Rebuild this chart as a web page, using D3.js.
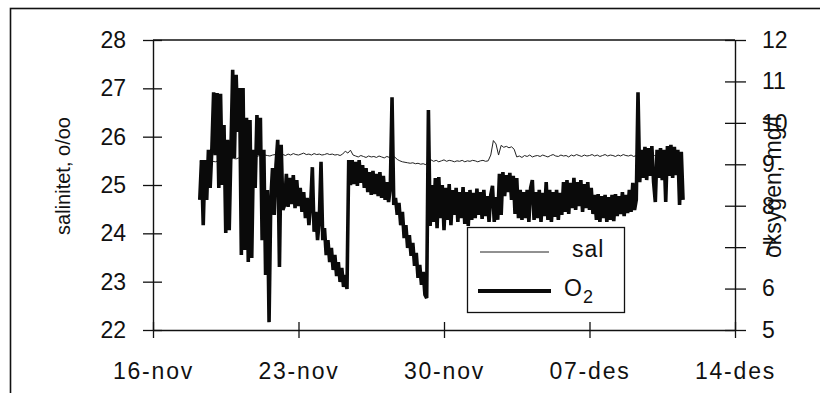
<!DOCTYPE html>
<html><head><meta charset="utf-8">
<script src="https://cdn.jsdelivr.net/npm/d3@7"></script>
<style>body{margin:0;background:#fff} svg{display:block}</style>
</head><body><svg id="c" width="820" height="393"></svg>
<script>
// ---- data ----
const xDomain = [new Date(1995,10,16), new Date(1995,11,14)];
const dateTicks = [new Date(1995,10,16), new Date(1995,10,23), new Date(1995,10,30), new Date(1995,11,7), new Date(1995,11,14)];
const dateTickLabels = ["16-nov","23-nov","30-nov","07-des","14-des"];
const salTicks = [22,23,24,25,26,27,28];
const o2Ticks = [5,6,7,8,9,10,11,12];
const seriesStart = new Date(1995,10,18,6);
const o2StepHours = 2;
const salStepHours = 3;
const o2Values = [
 8.14, 9.10, 7.53, 9.10, 8.14, 9.35, 8.43, 9.39, 10.74, 9.22,
 10.72, 8.43, 10.70, 8.50, 9.95, 7.34, 9.59, 7.41, 9.35, 11.28,
 9.15, 11.16, 9.78, 10.84, 6.81, 10.84, 6.93, 10.12, 6.64, 10.07,
 6.74, 9.35, 8.43, 10.19, 9.22, 10.12, 7.17, 9.35, 6.33, 8.38,
 5.19, 8.14, 8.91, 7.78, 8.98, 9.59, 6.52, 9.47, 7.90,
 8.02, 8.77, 7.97, 8.67, 8.04, 8.74, 7.94, 8.62, 7.99, 8.43,
 7.85, 8.33, 7.70, 8.19, 7.53, 8.02, 8.93, 7.37, 7.85, 7.17,
 7.66, 9.06, 7.17, 7.46, 6.81, 7.17, 6.64, 6.98, 6.45, 6.81,
 6.30, 6.64, 6.16, 6.50, 6.04, 6.33, 5.99, 9.10,
 8.50, 9.10, 8.52, 9.06, 8.48, 9.10, 8.55, 8.98, 8.43, 8.91,
 8.33, 8.81, 8.26, 8.84, 8.28, 8.77, 8.23, 8.81, 8.19, 8.72,
 8.14, 8.57, 8.09, 8.43, 10.62, 8.02,
 8.19, 7.78, 8.07, 7.53, 7.85, 7.22, 7.53, 6.98, 7.29, 6.79,
 7.10, 6.55, 6.86, 6.26, 6.57, 6.09, 6.40, 5.85, 5.77, 10.31, 7.51,
 8.50, 7.61, 8.67, 7.46, 8.69, 7.70, 8.50, 7.41, 8.43, 7.66,
 8.52, 7.53, 8.38, 7.78, 8.43, 7.61, 8.33, 7.70, 8.45, 7.56,
 8.33, 7.51, 8.38, 7.66, 8.31, 7.70, 8.41, 7.78, 8.33, 7.68,
 8.38, 7.75, 8.23, 7.61, 8.26, 8.48, 7.61, 8.21, 7.66, 8.77,
 7.78, 8.81, 8.23, 8.74, 8.33, 8.79, 8.14, 8.72, 7.80, 8.67,
 7.70, 8.38, 7.66, 8.33, 7.70, 8.38, 7.61, 8.43, 8.62, 7.66,
 8.33, 7.70, 8.38, 7.61, 8.31, 7.75, 8.57, 7.66, 8.38, 7.61,
 8.33, 7.73, 8.38, 7.66, 8.31, 7.78, 8.57, 7.85, 8.62, 7.80,
 8.55, 7.94, 8.67, 7.90, 8.57, 7.99, 8.62, 7.85, 8.52, 7.94,
 8.57, 7.90, 8.43, 7.80, 8.26, 7.66, 8.28, 7.61, 8.23, 7.70,
 8.26, 7.61, 8.21, 7.66, 8.26, 7.63, 8.28, 7.75, 8.23, 7.80,
 8.33, 7.75, 8.26, 7.82, 8.38, 7.85, 8.55, 7.90, 8.14, 10.74, 8.57,
 9.35, 8.67, 9.42, 8.62, 9.39, 8.72, 9.44, 8.57, 8.09, 9.35,
 8.67, 9.39, 8.62, 9.35, 8.09, 9.44, 8.72, 9.47, 8.67, 9.42,
 8.74, 9.35, 8.02, 9.30, 8.14
];
const salValues = [
 25.48, 25.49, 25.48, 25.47, 25.48, 25.49, 25.48,
 25.50, 25.51, 25.52, 25.53, 25.52, 25.54, 25.55, 25.54, 25.56, 25.57, 25.56, 25.58, 25.59,
 25.58, 25.60, 25.59, 25.61, 25.60, 25.62, 25.61, 25.60, 25.62, 25.63, 25.61, 25.62,
 25.63, 25.61, 25.64, 25.62, 25.65, 25.63, 25.62, 25.64, 25.66, 25.63, 25.64, 25.62,
 25.65, 25.63, 25.64, 25.62, 25.63, 25.65, 25.63, 25.64, 25.62, 25.63, 25.61, 25.64,
 25.70, 25.66, 25.72, 25.62,
 25.60, 25.58, 25.61, 25.59, 25.57, 25.60, 25.58, 25.59, 25.57, 25.60, 25.58, 25.56, 25.59, 25.57,
 25.56, 25.58, 25.53, 25.50, 25.48, 25.47, 25.46, 25.45, 25.46, 25.44, 25.45, 25.43, 25.44, 25.42,
 25.50, 25.52, 25.49, 25.51, 25.48, 25.50, 25.52, 25.49, 25.51, 25.50, 25.48, 25.50,
 25.49, 25.51, 25.48, 25.50, 25.49, 25.51, 25.50, 25.48, 25.50, 25.51, 25.49,
 25.50, 25.62, 25.92, 25.85, 25.62, 25.82, 25.78, 25.80, 25.77, 25.79, 25.74,
 25.58, 25.60, 25.57, 25.61, 25.59, 25.62, 25.58, 25.60, 25.61, 25.59,
 25.62, 25.60, 25.58, 25.61, 25.63, 25.60, 25.59, 25.62, 25.60, 25.61,
 25.58, 25.62, 25.60, 25.63, 25.61, 25.59, 25.62, 25.60, 25.61, 25.63,
 25.60, 25.62, 25.59, 25.61, 25.63, 25.60, 25.62, 25.61, 25.59, 25.62,
 25.60, 25.63, 25.61, 25.60, 25.62, 25.59, 25.61,
 25.60, 25.62, 25.61, 25.63, 25.60, 25.62, 25.61, 25.60, 25.62, 25.63,
 25.61, 25.60, 25.62, 25.61, 25.60, 25.62, 25.61
];
const legendLabels = ["sal", "O", "2"];
const axisTitles = ["salinitet, o/oo", "oksygen, mg/l"];

// ---- drawing ----
(function () {
const FONT = "'Liberation Sans', Arial, Helvetica, sans-serif";
const svg = d3.select("#c");
const pLeft = 153, pRight = 735, pTop = 40, pBottom = 330;

const x = d3.scaleTime().domain(xDomain).range([pLeft, pRight]);
const yS = d3.scaleLinear().domain([22, 28]).range([pBottom, pTop]);
const yO = d3.scaleLinear().domain([5, 12]).range([pBottom, pTop]);
const tAt = (i, h) => new Date(seriesStart.getTime() + i * h * 3600e3);

// outer frame
svg.append("rect").attr("x", 10.5).attr("y", 8.5).attr("width", 840).attr("height", 420)
  .attr("fill", "none").attr("stroke", "#111").attr("stroke-width", 1.6);

// plot top border
svg.append("line").attr("x1", pLeft).attr("x2", pRight).attr("y1", pTop).attr("y2", pTop)
  .attr("stroke", "#111").attr("stroke-width", 1.4);

// salinity line
svg.append("path").datum(salValues)
  .attr("fill", "none").attr("stroke", "#222").attr("stroke-width", 1)
  .attr("d", d3.line().x((d, i) => x(tAt(i, salStepHours))).y(d => yS(d)));

// oxygen line
svg.append("path").datum(o2Values)
  .attr("fill", "none").attr("stroke", "#0a0a0a").attr("stroke-width", 3.6)
  .attr("stroke-linejoin", "miter").attr("stroke-miterlimit", 2)
  .attr("d", d3.line().x((d, i) => x(tAt(i, o2StepHours))).y(d => yO(d)));

function styleAxis(g) {
  g.attr("font-family", FONT).attr("font-size", 23);
  g.selectAll(".domain").attr("stroke", "#111").attr("stroke-width", 1.4);
  g.selectAll(".tick line").attr("stroke", "#111").attr("stroke-width", 1.3);
  g.selectAll(".tick text").attr("fill", "#111");
}

// left axis
const gL = svg.append("g").attr("transform", `translate(${pLeft},0)`)
  .call(d3.axisLeft(yS).tickValues(salTicks).tickFormat(d3.format("d")).tickSize(10).tickSizeOuter(0).tickPadding(17));
gL.selectAll(".tick line").attr("x1", 9);
styleAxis(gL);

// right axis
const gR = svg.append("g").attr("transform", `translate(${pRight},0)`)
  .call(d3.axisRight(yO).tickValues(o2Ticks).tickFormat(d3.format("d")).tickSize(11).tickSizeOuter(0).tickPadding(16));
gR.selectAll(".tick line").attr("x1", -10);
styleAxis(gR);

// bottom axis
const gB = svg.append("g").attr("transform", `translate(0,${pBottom})`)
  .call(d3.axisBottom(x).tickValues(dateTicks).tickFormat((d, i) => dateTickLabels[i]).tickSize(8).tickSizeOuter(0).tickPadding(25));
gB.selectAll(".tick line").attr("y1", -8);
styleAxis(gB);
gB.selectAll(".tick text").style("letter-spacing", "1.8px");

// axis titles
svg.append("text").attr("transform", "translate(70,176) rotate(-90)")
  .attr("text-anchor", "middle").attr("font-family", FONT).attr("font-size", 20).attr("fill", "#111")
  .text(axisTitles[0]);
svg.append("text").attr("transform", "translate(781,187) rotate(-90)")
  .attr("text-anchor", "middle").attr("font-family", FONT).attr("font-size", 23).attr("fill", "#111")
  .text(axisTitles[1]);

// legend
const lg = svg.append("g");
lg.append("rect").attr("x", 467.5).attr("y", 227.5).attr("width", 157).attr("height", 85)
  .attr("fill", "#fff").attr("stroke", "#111").attr("stroke-width", 1.3);
lg.append("line").attr("x1", 480).attr("x2", 549).attr("y1", 252).attr("y2", 252)
  .attr("stroke", "#222").attr("stroke-width", 1);
lg.append("text").attr("x", 572).attr("y", 257).attr("font-family", FONT).attr("font-size", 23)
  .style("letter-spacing", "1px").attr("fill", "#111").text(legendLabels[0]);
lg.append("line").attr("x1", 478).attr("x2", 551).attr("y1", 291).attr("y2", 291)
  .attr("stroke", "#0a0a0a").attr("stroke-width", 4);
const o2t = lg.append("text").attr("x", 564).attr("y", 296).attr("font-family", FONT).attr("font-size", 23).attr("fill", "#111");
o2t.append("tspan").text(legendLabels[1]);
o2t.append("tspan").attr("font-size", 18).attr("dy", 7).attr("dx", 1).text(legendLabels[2]);
})();
</script>
</body></html>
